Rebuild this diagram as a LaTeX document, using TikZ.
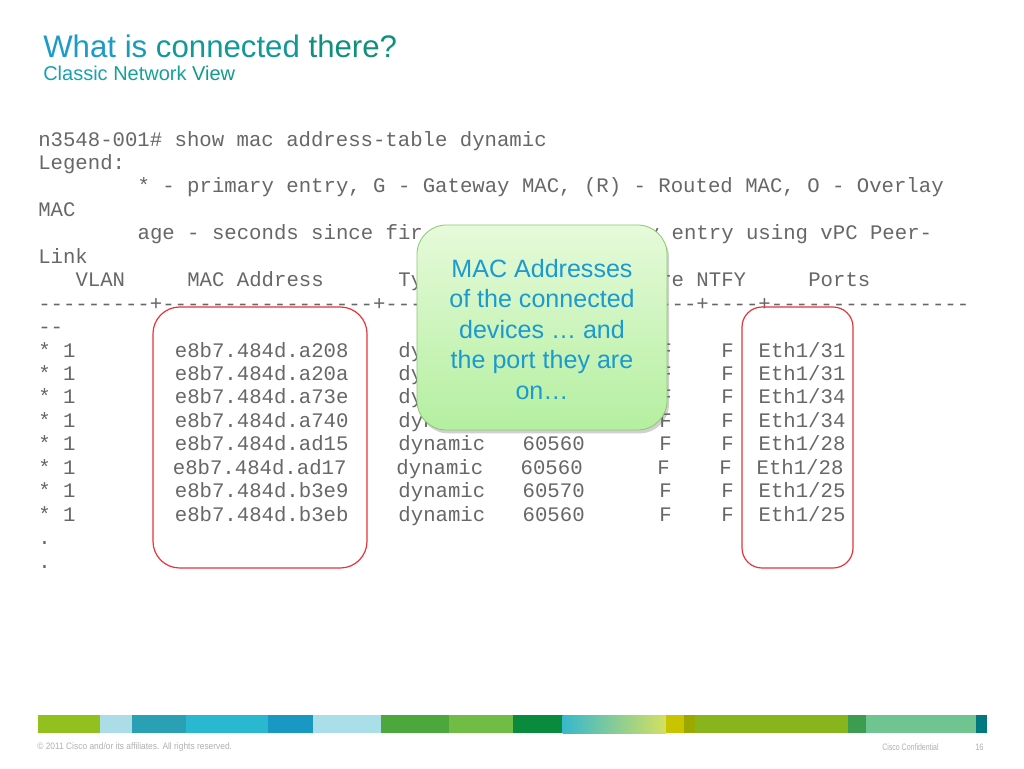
\documentclass[tikz,border=0pt]{standalone}
\usepackage{fontspec}
\setmainfont{Liberation Sans}
\setmonofont{Liberation Mono}
\usetikzlibrary{shadows}
\definecolor{monogray}{HTML}{676767}
\definecolor{tA}{HTML}{1B9BC9}
\definecolor{tB}{HTML}{189BB8}
\definecolor{tC}{HTML}{13989A}
\definecolor{tD}{HTML}{10907C}
\definecolor{sA}{HTML}{1AA0B2}
\definecolor{sB}{HTML}{15A09C}
\definecolor{sC}{HTML}{12998A}
\definecolor{callouttext}{HTML}{1A9AD0}
\definecolor{calloutTop}{HTML}{E6FADA}
\definecolor{calloutBot}{HTML}{B4EFA0}
\definecolor{calloutLine}{HTML}{8CC870}
\definecolor{boxred}{HTML}{E6343C}
\definecolor{foot}{HTML}{B0B0B0}
\definecolor{barA}{HTML}{92C01F}
\definecolor{barB}{HTML}{ACDCE6}
\definecolor{barC}{HTML}{29A0B4}
\definecolor{barD}{HTML}{2AB8D0}
\definecolor{barE}{HTML}{1A98C4}
\definecolor{barF}{HTML}{AADEE8}
\definecolor{barG}{HTML}{4CA83C}
\definecolor{barH}{HTML}{70BC44}
\definecolor{barI}{HTML}{0A8A3C}
\definecolor{gradL}{HTML}{38B8CC}
\definecolor{gradR}{HTML}{D4E060}
\definecolor{barJ}{HTML}{C8C400}
\definecolor{barK}{HTML}{9AA800}
\definecolor{barL}{HTML}{88B41C}
\definecolor{barM}{HTML}{3C9C50}
\definecolor{barN}{HTML}{70C490}
\definecolor{barO}{HTML}{00787E}
\newcommand\mt[4]{\node[mono] (#1) at ({38+#2*12.42},{146+#3*23.45}) {#4};}
\begin{document}
\begin{tikzpicture}[x=0.75pt,y=-0.75pt,
  mono/.style={anchor=base west, inner sep=0pt, font=\fontsize{15.5pt}{17pt}\ttfamily, text=monogray},
  redbox/.style={draw=boxred, line width=0.9pt, rounded corners=18pt, inner sep=0pt},
  calloutline/.style={anchor=base, inner sep=0pt, font=\fontsize{18.8pt}{22pt}\selectfont, text=callouttext},
  foottext/.style={anchor=west, inner sep=0pt, font=\fontsize{7pt}{8pt}\selectfont, text=foot}]
\useasboundingbox (0,0) rectangle (1024,768);
\fill[white] (0,0) rectangle (1024,768);

% title
\node[anchor=base west, inner sep=0pt, font=\fontsize{23.4pt}{27pt}\selectfont] (title) at (43,57)
  {\textcolor{tA}{What} \textcolor{tB}{is} \textcolor{tC}{connected} \textcolor{tD}{there?}};
\node[anchor=base west, inner sep=0pt, font=\fontsize{15pt}{18pt}\selectfont] (subtitle) at (43,80)
  {\textcolor{sA}{Classic} \textcolor{sB}{Network} \textcolor{sC}{View}};

% CLI output (parts hidden behind the callout are left out)
\mt{l1}{0}{0}{n3548-001\# show mac address-table dynamic}
\mt{l2}{0}{1}{Legend:}
\mt{l3}{8}{2}{* - primary entry, G - Gateway MAC, (R) - Routed MAC, O - Overlay}
\mt{l4}{0}{3}{MAC}
\mt{l5a}{8}{4}{age - seconds since fir}
\mt{l5b}{49}{4}{y entry using vPC Peer-}
\mt{l6}{0}{5}{Link}
\mt{hVlan}{3}{6}{VLAN}
\mt{hMac}{12}{6}{MAC Address}
\mt{hType}{29}{6}{Ty}
\mt{hSec}{49}{6}{ure NTFY}
\mt{hPorts}{62}{6}{Ports}
\mt{dash1a}{0}{7}{---------+-----------------+---}
\mt{dash1b}{49}{7}{----+----+----------------}
\mt{dash2}{0}{8}{--}
\foreach \k/\mac/\port/\dx [count=\i] in {
  9/a208/31/0, 10/a20a/31/0, 11/a73e/34/0, 12/a740/34/0}{
  \node[mono] (vl\i) at (38,{146+\k*23.45}) {* 1};
  \node[mono] (mac\i) at ({38+11*12.42+\dx},{146+\k*23.45}) {e8b7.484d.\mac};
  \node[mono] (typ\i) at ({38+29*12.42+\dx},{146+\k*23.45}) {dyn};
  \node[mono] (sec\i) at ({38+50*12.42+\dx},{146+\k*23.45}) {F};
  \node[mono] (ntf\i) at ({38+55*12.42+\dx},{146+\k*23.45}) {F};
  \node[mono] (prt\i) at ({38+58*12.42+\dx},{146+\k*23.45}) {Eth1/\port};
}
\foreach \k/\mac/\age/\port/\dx [count=\i from 5] in {
  13/ad15/60560/28/0, 14/ad17/60560/28/-2, 15/b3e9/60570/25/0, 16/b3eb/60560/25/0}{
  \node[mono] (vl\i) at (38,{146+\k*23.45}) {* 1};
  \node[mono] (mac\i) at ({38+11*12.42+\dx},{146+\k*23.45}) {e8b7.484d.\mac};
  \node[mono] (typ\i) at ({38+29*12.42+\dx},{146+\k*23.45}) {dynamic};
  \node[mono] (age\i) at ({38+39*12.42+\dx},{146+\k*23.45}) {\age};
  \node[mono] (sec\i) at ({38+50*12.42+\dx},{146+\k*23.45}) {F};
  \node[mono] (ntf\i) at ({38+55*12.42+\dx},{146+\k*23.45}) {F};
  \node[mono] (prt\i) at ({38+58*12.42+\dx},{146+\k*23.45}) {Eth1/\port};
}
\mt{dot1}{0}{17}{.}
\mt{dot2}{0}{18}{.}

% red highlight boxes
\node[redbox, rounded corners=20pt, minimum width=160.5pt, minimum height=195.75pt] (macbox) at (260,437.5) {};
\node[redbox, rounded corners=15pt, minimum width=83.25pt, minimum height=195.75pt] (portbox) at (797.5,437.5) {};

% callout
\node[draw=calloutLine, line width=0.6pt, rounded corners=22pt, top color=calloutTop, bottom color=calloutBot,
  minimum width=187.5pt, minimum height=153.75pt, inner sep=0pt,
  drop shadow={shadow xshift=1.5pt, shadow yshift=-2.5pt, opacity=0.3, fill=black!60}] (callout) at (542,327.5) {};
\node[calloutline] (c1) at (542,277) {MAC Addresses};
\node[calloutline] (c2) at (542,307.5) {of the connected};
\node[calloutline] (c3) at (542,338) {devices … and};
\node[calloutline] (c4) at (542,368.5) {the port they are};
\node[calloutline] (c5) at (542,399) {on…};

% bottom colour bar
\foreach \a/\b/\c in {38.3/100/barA, 100/131.7/barB, 131.7/185.7/barC, 185.7/268.3/barD,
  268.3/313.3/barE, 313.3/381/barF, 381/449/barG, 449/513.3/barH, 513.3/562.7/barI,
  665.7/684.3/barJ, 684.3/695/barK, 695/848.3/barL, 848.3/865.7/barM, 865.7/975.7/barN, 975.7/986.7/barO}{
  \fill[\c] (\a,715) rectangle (\b+0.4,733);
}
\shade[left color=gradL, right color=gradR] (562.7,715) rectangle (665.9,733);

% footer
\node[foottext] (copy) at (37,747) {\scalebox{0.9}[1]{© 2011 Cisco and/or its affiliates. All rights reserved.}};
\node[foottext] (conf) at (882,747) {\scalebox{0.75}[1]{Cisco Confidential}};
\node[foottext] (page) at (975,747) {\scalebox{0.8}[1]{16}};
\end{tikzpicture}
\end{document}
